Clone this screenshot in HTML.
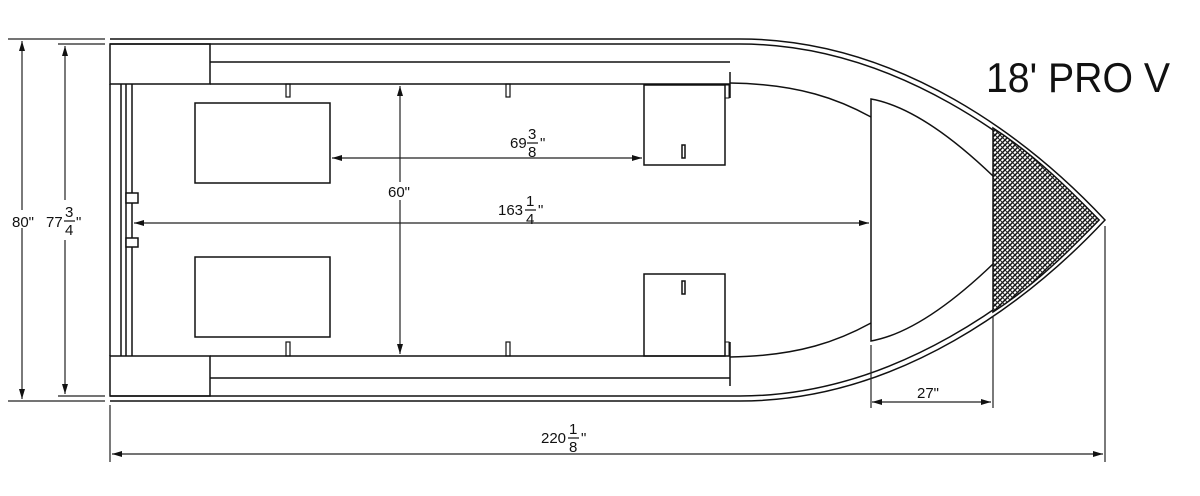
<!DOCTYPE html>
<html><head><meta charset="utf-8"><style>
html,body{margin:0;padding:0;background:#fff;}
svg{display:block;}
text{font-family:"Liberation Sans",sans-serif;fill:#111;}
</style></head><body>
<svg width="1200" height="496" viewBox="0 0 1200 496" xmlns="http://www.w3.org/2000/svg">
<defs>
<pattern id="h" width="5" height="5" patternUnits="userSpaceOnUse">
<rect width="5" height="5" fill="#fff"/>
<path d="M0 5 L5 0 M-1 1 L1 -1 M4 6 L6 4" stroke="#111" stroke-width="1.5"/>
<path d="M0 0 L5 5" stroke="#222" stroke-width="1"/>
</pattern>
<marker id="a" viewBox="0 0 10 6" refX="10" refY="3" markerWidth="16" markerHeight="6" markerUnits="userSpaceOnUse" orient="auto-start-reverse">
<path d="M0 0 L10 3 L0 6 z" fill="#111"/>
</marker>
</defs>
<g fill="none" stroke="#111" stroke-width="1.5">
<path d="M110 39 H740 C900 39 1030 140 1105 220 C1030 300 900 401 740 401 H110"/>
<path d="M110 44 H740 C895 44 1025 143 1099 220 C1025 297 895 396 740 396 H110"/>
<path d="M993 128 C1035 155 1070 190 1099 220 C1070 250 1035 285 993 312 Z" fill="url(#h)"/>
<path d="M730 83 C800 84 840 100 871 117"/>
<path d="M730 357 C800 356 840 340 871 323"/>
<path d="M993 176 Q922 108 871 99 V341 Q922 332 993 264"/>
<rect x="110" y="44" width="100" height="40"/>
<rect x="110" y="356" width="100" height="40"/>
<path d="M210 62 H730 M210 84 H730 M730 72 V98"/>
<path d="M210 378 H730 M210 356 H730 M730 342 V386"/>
<path d="M110 84 V356 M121 84 V356 M126 84 V356 M132 84 V356"/>
<rect x="126" y="193" width="12" height="10" fill="#fff"/>
<rect x="126" y="238" width="12" height="9" fill="#fff"/>
<rect x="195" y="103" width="135" height="80"/>
<rect x="195" y="257" width="135" height="80"/>
<rect x="644" y="85" width="81" height="80"/>
<rect x="644" y="274" width="81" height="82"/>
<rect x="725" y="85" width="4" height="13" stroke-width="1"/>
<rect x="725" y="342" width="4" height="14" stroke-width="1"/>
<g stroke-width="1.2">
<rect x="286" y="84" width="4" height="13"/><rect x="506" y="84" width="4" height="13"/>
<rect x="286" y="342" width="4" height="14"/><rect x="506" y="342" width="4" height="14"/>
</g>
<rect x="682" y="145" width="3" height="13" stroke-width="1.5" fill="#fff"/>
<rect x="682" y="281" width="3" height="13" stroke-width="1.5" fill="#fff"/>
</g>
<g fill="none" stroke="#222" stroke-width="1.2">
<path d="M8 39 H105 M8 401 H105 M58 44 H105 M58 396 H105"/>
<path d="M22 41 V399" marker-start="url(#a)" marker-end="url(#a)"/>
<path d="M65 46 V394" marker-start="url(#a)" marker-end="url(#a)"/>
<path d="M400 86 V354" marker-start="url(#a)" marker-end="url(#a)"/>
<path d="M332 158 H642" marker-start="url(#a)" marker-end="url(#a)"/>
<path d="M134 223 H869" marker-start="url(#a)" marker-end="url(#a)"/>
<path d="M871 345 V408 M993 316 V408"/>
<path d="M872 402 H991" marker-start="url(#a)" marker-end="url(#a)"/>
<path d="M110 405 V462 M1105 226 V462"/>
<path d="M112 454 H1103" marker-start="url(#a)" marker-end="url(#a)"/>
</g>
<g font-size="15">
<rect x="10" y="210" width="28" height="18" fill="#fff"/>
<text x="12" y="227">80"</text>
<rect x="46" y="200" width="38" height="40" fill="#fff"/>
<text x="46" y="227">77</text>
<text x="65" y="217" font-size="15">3</text><path d="M64 221 H75" stroke="#111" stroke-width="1.2"/><text x="65" y="235" font-size="15">4</text><text x="76" y="227">"</text>
<rect x="388" y="182" width="24" height="18" fill="#fff"/>
<text x="388" y="197">60"</text>
<text x="510" y="148">69</text><text x="528" y="139" font-size="15">3</text><path d="M527 143 H538" stroke="#111" stroke-width="1.2"/><text x="528" y="157" font-size="15">8</text><text x="540" y="148">"</text>
<text x="498" y="215">163</text><text x="526" y="206" font-size="15">1</text><path d="M525 210 H536" stroke="#111" stroke-width="1.2"/><text x="526" y="224" font-size="15">4</text><text x="538" y="215">"</text>
<text x="917" y="398">27"</text>
<text x="541" y="443">220</text><text x="569" y="434" font-size="15">1</text><path d="M568 438 H579" stroke="#111" stroke-width="1.2"/><text x="569" y="452" font-size="15">8</text><text x="581" y="443">"</text>
</g>
<text x="986" y="92" font-size="42" textLength="184" lengthAdjust="spacingAndGlyphs">18' PRO V</text>
</svg>
</body></html>
